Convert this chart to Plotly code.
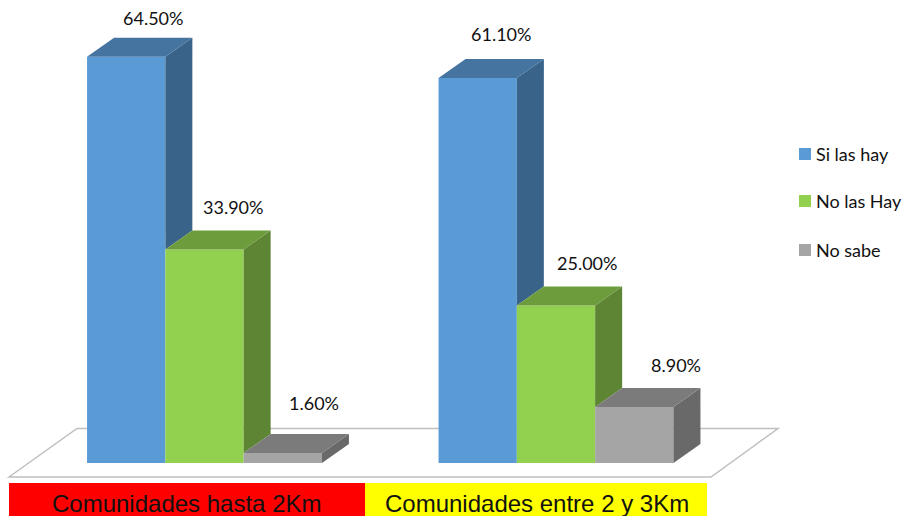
import plotly.graph_objects as go

categories = ["Comunidades hasta 2Km", "Comunidades entre 2 y 3Km"]
series_names = ["Si las hay", "No las Hay", "No sabe"]
si_las_hay = [64.5, 61.1]
no_las_hay = [33.9, 25.0]
no_sabe = [1.6, 8.9]
series_values = [si_las_hay, no_las_hay, no_sabe]

W, H = 902, 516
PX_PER_GROUP = 351.5
PX_PER_UNIT = 6.3
X_ZERO_PX = 204.5
Y_ZERO_PX = 463
BAR_W = 78.3 / PX_PER_GROUP
DX = 27 / PX_PER_GROUP
DY = 19 / PX_PER_UNIT

front = ["#5B9BD5", "#92D050", "#A5A5A5"]
top = ["#44749F", "#6D9C3C", "#7B7B7B"]
side = ["#3A6389", "#5E8534", "#696969"]

# pixel nudges of each value label: series -> category
label_dx = [[0, -4], [1, 4], [4, 15]]
label_dy = [[-20, -25], [-23, -24], [-31, -23]]

fig = go.Figure()

for s, name in enumerate(series_names):
    fig.add_trace(go.Bar(
        x=list(range(len(categories))), y=series_values[s], name=name,
        marker=dict(color=front[s], line=dict(width=0)),
        showlegend=False, hoverinfo="name+y",
    ))

for s, name in enumerate(series_names):
    for c in range(len(categories)):
        v = series_values[s][c]
        x0 = c + (s - 1.5) * BAR_W
        x1 = x0 + BAR_W
        below = series_values[s + 1][c] if s < len(series_names) - 1 else 0
        fig.add_trace(go.Scatter(
            x=[x1, x1 + DX, x1 + DX, x1, x1],
            y=[v, v + DY, below + DY, below, v],
            mode="lines", fill="toself", fillcolor=side[s],
            line=dict(width=0, color=side[s]), showlegend=False, hoverinfo="skip",
        ))
        fig.add_trace(go.Scatter(
            x=[x0, x0 + DX, x1 + DX, x1, x0],
            y=[v, v + DY, v + DY, v, v],
            mode="lines", fill="toself", fillcolor=top[s],
            line=dict(width=0, color=top[s]), showlegend=False, hoverinfo="skip",
        ))
        fig.add_annotation(
            x=c + (s - 1) * BAR_W + DX, y=v + DY,
            text=f"{v:.2f}%", showarrow=False, xanchor="center", yanchor="middle",
            xshift=label_dx[s][c], yshift=-label_dy[s][c],
            font=dict(family="Lato", size=18, color="#111111"),
        )

shapes = [
    # floor
    dict(type="path", xref="paper", yref="paper", layer="below",
         path=f"M {9/W} {1-477/H} L {77/W} {1-428.5/H} L {778/W} {1-428.5/H} L {711/W} {1-477/H} Z",
         line=dict(color="#BFBFBF", width=1.5), fillcolor="#FFFFFF"),
    # category strip
    dict(type="rect", xref="paper", yref="paper", x0=9/W, x1=365/W, y0=0, y1=1-483/H,
         fillcolor="#FF0000", line=dict(width=0), layer="below"),
    dict(type="rect", xref="paper", yref="paper", x0=365/W, x1=707/W, y0=0, y1=1-483/H,
         fillcolor="#FFFF00", line=dict(width=0), layer="below"),
]
for cat, cx in zip(categories, [186.5, 536.5]):
    fig.add_annotation(xref="paper", yref="paper", x=cx/W, y=1-503/H, text=cat,
                       xanchor="center", yanchor="middle",
                       showarrow=False, font=dict(family="Liberation Sans", size=24, color="#111111"))

for name, col, ly in zip(series_names, front, [154, 201, 250]):
    shapes.append(dict(type="rect", xref="paper", yref="paper", x0=799/W, x1=811/W,
                       y0=1-(ly+6)/H, y1=1-(ly-6)/H, fillcolor=col, line=dict(width=0)))
    fig.add_annotation(xref="paper", yref="paper", x=814/W, y=1-ly/H, xanchor="left", yanchor="middle",
                       text=name, showarrow=False, font=dict(family="Lato", size=18, color="#111111"))

fig.update_layout(
    width=W, height=H, margin=dict(l=0, r=0, t=0, b=0),
    paper_bgcolor="#FFFFFF", plot_bgcolor="rgba(0,0,0,0)",
    barmode="group", bargap=1 - 3 * BAR_W, bargroupgap=0,
    shapes=shapes, showlegend=False,
    xaxis=dict(range=[-X_ZERO_PX/PX_PER_GROUP, (W-X_ZERO_PX)/PX_PER_GROUP], visible=False),
    yaxis=dict(range=[-(H-Y_ZERO_PX)/PX_PER_UNIT, Y_ZERO_PX/PX_PER_UNIT], visible=False),
)
fig.write_html("out.html", config=dict(displayModeBar=False),
               post_script="document.body.style.margin='0';document.body.style.overflow='hidden';")
